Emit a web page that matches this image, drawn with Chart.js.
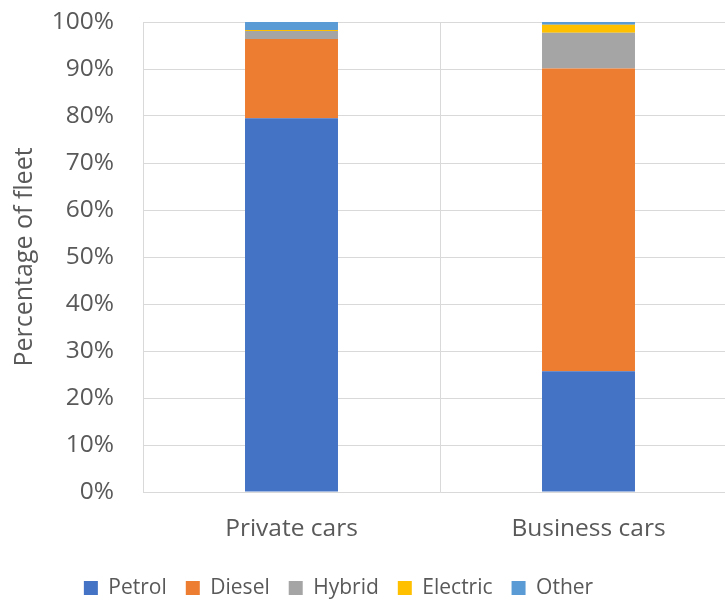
<!DOCTYPE html>
<html>
<head>
<meta charset="utf-8">
<script src="https://cdn.jsdelivr.net/npm/chart.js@4/dist/chart.umd.min.js"></script>
<style>
  html, body { margin: 0; padding: 0; overflow: hidden; background: #ffffff; }
  #wrap { position: relative; width: 737px; height: 605px; }
</style>
</head>
<body>
<div id="wrap"><canvas id="c"></canvas></div>
<script>
const categories = ['Private cars', 'Business cars'];
const seriesNames = ['Petrol', 'Diesel', 'Hybrid', 'Electric', 'Other'];
const petrol   = [79.5, 25.7];
const diesel   = [16.9, 64.4];
const hybrid   = [1.7, 7.6];
const electric = [0.2, 1.7];
const other    = [1.7, 0.6];
const yTicks = [0, 10, 20, 30, 40, 50, 60, 70, 80, 90, 100];
const yTitle = 'Percentage of fleet';

const colors = ['#4472C4', '#ED7D31', '#A5A5A5', '#FFC000', '#5B9BD5'];
const seriesData = [petrol, diesel, hybrid, electric, other];
const textColor = '#595959';
const gridColor = '#d9d9d9';
const FONT = "'Open Sans', sans-serif";

const legendShift = {
  id: 'legendShift',
  afterLayout(chart) {
    const l = chart.legend;
    if (!l) return;
    l.left -= 30; l.right -= 30;
    l.top += 3.5; l.bottom += 3.5;
  }
};

new Chart(document.getElementById('c'), {
  type: 'bar',
  data: {
    labels: categories,
    datasets: seriesNames.map((n, i) => ({
      label: n,
      data: seriesData[i],
      backgroundColor: colors[i],
      borderWidth: 0,
      categoryPercentage: 1,
      barPercentage: 0.313
    }))
  },
  options: {
    responsive: true,
    maintainAspectRatio: false,
    animation: false,
    devicePixelRatio: 1,
    layout: { padding: { top: 22, left: 0, right: 0, bottom: 0 } },
    plugins: {
      tooltip: { enabled: false },
      legend: {
        position: 'bottom',
        labels: {
          font: { family: FONT, size: 21 },
          color: textColor,
          boxWidth: 14,
          boxHeight: 14,
          padding: 19
        }
      }
    },
    scales: {
      x: {
        stacked: true,
        offset: true,
        grid: { display: true, offset: true, color: gridColor, lineWidth: 1, drawTicks: false },
        border: { display: true, color: gridColor, width: 1 },
        ticks: { font: { family: FONT, size: 24.5 }, color: textColor, padding: 22 },
        afterFit(s) { s.height = 63; }
      },
      y: {
        stacked: true,
        min: 0,
        max: 100,
        afterBuildTicks(s) { s.ticks = yTicks.map(v => ({ value: v })); },
        grid: { color: gridColor, lineWidth: 1, drawTicks: false },
        border: { display: true, color: gridColor, width: 1 },
        ticks: {
          font: { family: FONT, size: 24.5 },
          color: textColor,
          padding: 29,
          callback: v => v + '%'
        },
        title: {
          display: true,
          text: yTitle,
          font: { family: FONT, size: 25 },
          color: textColor,
          padding: { top: 10, bottom: 0 }
        },
        afterFit(s) { s.width = 143; s.paddingTop = 0; s.paddingBottom = 0; }
      }
    }
  },
  plugins: [legendShift]
});
</script>
</body>
</html>
